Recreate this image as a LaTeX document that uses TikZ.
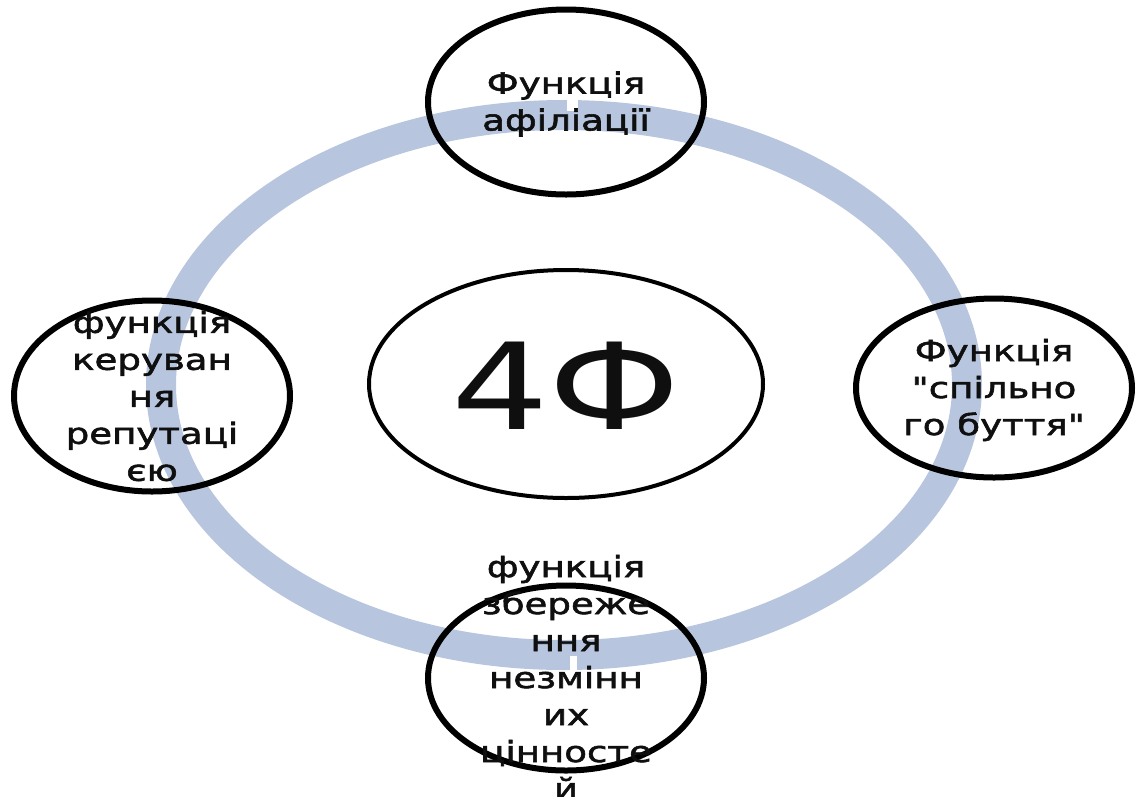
\documentclass[tikz,border=0pt]{standalone}
\usepackage{fontspec}
\setmainfont{DejaVu Sans}[FakeStretch=1.28, FakeBold=2, Ligatures=TeXOff]
\newfontfamily\bigfont{DejaVu Sans}[FakeStretch=1.28]
\usetikzlibrary{shapes.geometric}
\definecolor{ringblue}{RGB}{183,198,222}
\definecolor{txtcol}{RGB}{15,15,15}
\begin{document}
\begin{tikzpicture}[x=1pt,y=-1pt,
  bub/.style={ellipse, draw=black, line width=6pt, inner sep=0pt,
              minimum width=276pt, minimum height=185pt},
  txt/.style={align=center, inner sep=0pt, text=txtcol,
              font=\fontsize{29}{37}\selectfont},
  gap/.style={fill=white, draw=none}]
\useasboundingbox (0,0) rectangle (1138,796);
% ring
\draw[ringblue, line width=30pt] (564,385) ellipse [x radius=403, y radius=270];
\fill[gap] (567,97) rectangle (578,111);
\fill[gap] (570,656) rectangle (577,671);
% centre
\node[bub, minimum width=394pt, minimum height=228pt, line width=4pt] (c) at (566,384) {};
\node[txt, font=\bigfont\fontsize{120}{124}\selectfont] (ct) at (566,386) {4Ф};
% top
\node[bub] (t) at (566,102) {};
\node[txt] (tt) at (566,104) {Функція\\афіліації};
% left
\node[bub, minimum height=191pt] (l) at (152,396) {};
\node[txt] (lt) at (152,396) {функція\\керуван\\ня\\репутаці\\єю};
% right
\node[bub, minimum height=179pt] (r) at (994,388) {};
\node[txt] (rt) at (994,390) {Функція\\"спільно\\го буття"};
% bottom
\node[bub] (b) at (566,678) {};
\node[txt] (bt) at (566,677) {функція\\збереже\\ння\\незмінн\\их\\цінносте\\й};
\end{tikzpicture}
\end{document}
